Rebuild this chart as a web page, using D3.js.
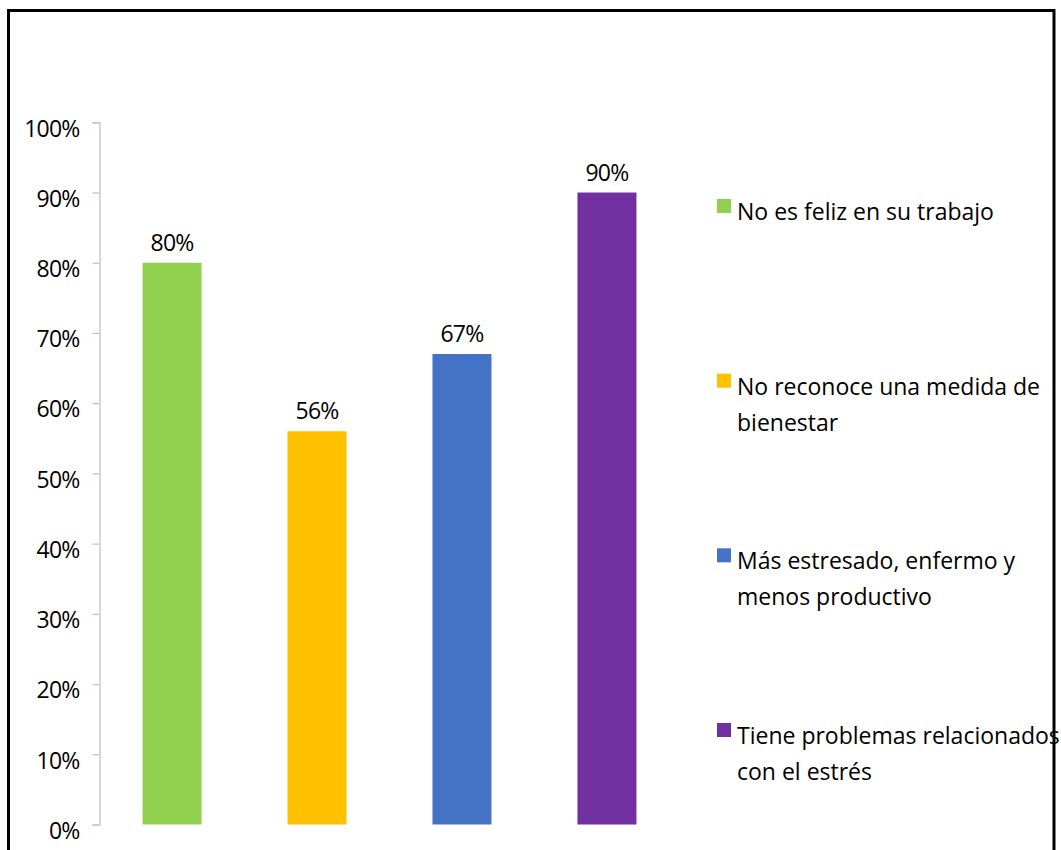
<!DOCTYPE html>
<html>
<head>
<meta charset="utf-8">
<script src="https://cdn.jsdelivr.net/npm/d3@7"></script>
<style>
  html, body { margin: 0; padding: 0; background: #fff; }
  svg { display: block; }
  text { font-family: "Open Sans", "Noto Sans", sans-serif; fill: #000; }
</style>
</head>
<body>
<svg id="chart" width="1061" height="850"></svg>
<script>
// Survey results: share of respondents per statement
const categories = [
  "No es feliz en su trabajo",
  "No reconoce una medida de bienestar",
  "Más estresado, enfermo y menos productivo",
  "Tiene problemas relacionados con el estrés"
];
const values = [0.80, 0.56, 0.67, 0.90];
const colors = ["#92D050", "#FFC000", "#4472C4", "#7030A0"];
const legendLines = [
  ["No es feliz en su trabajo"],
  ["No reconoce una medida de", "bienestar"],
  ["Más estresado, enfermo y", "menos productivo"],
  ["Tiene problemas relacionados", "con el estrés"]
];
const tickValues = [0, 0.1, 0.2, 0.3, 0.4, 0.5, 0.6, 0.7, 0.8, 0.9, 1.0];

const svg = d3.select("#chart");
const fontFamily = "'Open Sans', 'Noto Sans', sans-serif";
const fontSize = 23;

const y = d3.scaleLinear().domain([0, 1]).range([824.5, 122.3]);
const x = d3.scaleBand()
  .domain(categories)
  .range([99.5, 679.5])
  .paddingInner(0.593)
  .paddingOuter(0.297);

const pct = d3.format(".0%");

// Y axis
const axis = d3.axisLeft(y)
  .tickValues(tickValues)
  .tickFormat(pct)
  .tickSize(7)
  .tickPadding(13);

const gAxis = svg.append("g")
  .attr("transform", "translate(99.5,0)")
  .call(axis);
gAxis.select(".domain").attr("stroke", "#bfbfbf").attr("stroke-width", 1.2);
gAxis.selectAll(".tick line").attr("stroke", "#bfbfbf").attr("stroke-width", 1.2);
gAxis.selectAll(".tick text")
  .attr("font-family", fontFamily)
  .attr("font-size", fontSize)
  .attr("fill", "#000")
  .attr("letter-spacing", -0.8)
  .attr("dy", "0.6em")
  .attr("y", 0);

// Bars
svg.append("g").selectAll("rect")
  .data(categories)
  .join("rect")
  .attr("x", d => x(d))
  .attr("width", x.bandwidth())
  .attr("y", (d, i) => y(values[i]))
  .attr("height", (d, i) => y(0) - y(values[i]))
  .attr("fill", (d, i) => colors[i]);

// Value labels
svg.append("g").selectAll("text")
  .data(categories)
  .join("text")
  .attr("x", d => x(d) + x.bandwidth() / 2)
  .attr("y", (d, i) => y(values[i]) - 12)
  .attr("text-anchor", "middle")
  .attr("font-size", fontSize)
  .attr("letter-spacing", -0.8)
  .text((d, i) => pct(values[i]));

// Legend
const legendTop = d3.scaleLinear().domain([0, 3]).range([199, 723]);
const legend = svg.append("g").selectAll("g")
  .data(categories)
  .join("g")
  .attr("transform", (d, i) => `translate(0,${legendTop(i)})`);

legend.append("rect")
  .attr("x", 717)
  .attr("y", 0)
  .attr("width", 14)
  .attr("height", 14)
  .attr("fill", (d, i) => colors[i]);

legend.append("text")
  .attr("x", 737)
  .attr("y", 21)
  .attr("font-size", fontSize)
  .selectAll("tspan")
  .data((d, i) => legendLines[i])
  .join("tspan")
  .attr("x", 737)
  .attr("dy", (d, j) => j === 0 ? 0 : 36)
  .text(d => d);

// Outer frame
svg.append("rect")
  .attr("x", 8.5)
  .attr("y", 10.5)
  .attr("width", 1045.5)
  .attr("height", 900)
  .attr("fill", "none")
  .attr("stroke", "#000")
  .attr("stroke-width", 3);
</script>
</body>
</html>
